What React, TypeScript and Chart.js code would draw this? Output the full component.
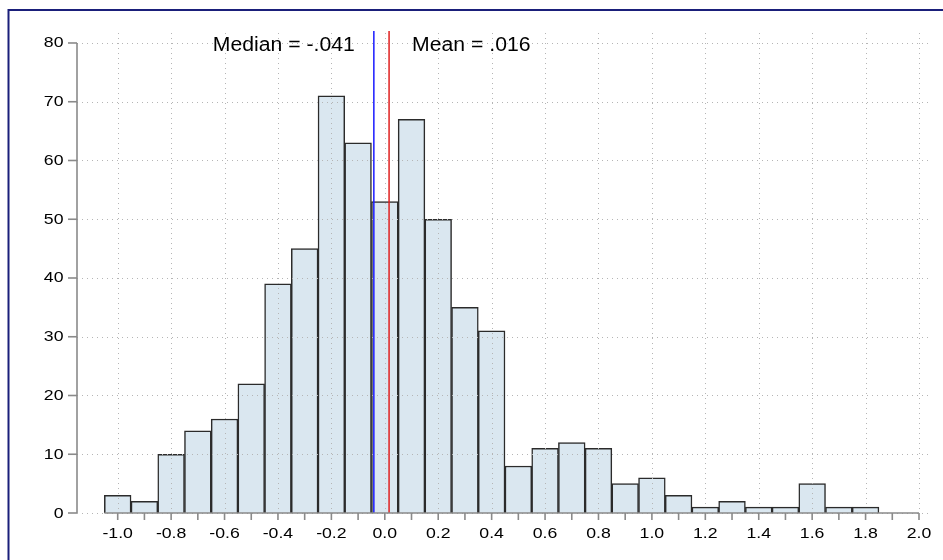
import React, { useEffect, useRef } from 'react';
import { Chart, registerables } from 'chart.js';

Chart.register(...registerables);

// ---- data ----
const binCenters = [-1.0, -0.9, -0.8, -0.7, -0.6, -0.5, -0.4, -0.3, -0.2, -0.1, 0.0, 0.1, 0.2, 0.3, 0.4, 0.5, 0.6, 0.7, 0.8, 0.9, 1.0, 1.1, 1.2, 1.3, 1.4, 1.5, 1.6, 1.7, 1.8];
const counts = [3, 2, 10, 14, 16, 22, 39, 45, 71, 63, 53, 67, 50, 35, 31, 8, 11, 12, 11, 5, 6, 3, 1, 2, 1, 1, 5, 1, 1];
const xTickValues = [-1.0, -0.8, -0.6, -0.4, -0.2, 0.0, 0.2, 0.4, 0.6, 0.8, 1.0, 1.2, 1.4, 1.6, 1.8, 2.0];
const xTickLabels = ['-1.0', '-0.8', '-0.6', '-0.4', '-0.2', '0.0', '0.2', '0.4', '0.6', '0.8', '1.0', '1.2', '1.4', '1.6', '1.8', '2.0'];
const xMinorTicks = [-1.0, -0.9, -0.8, -0.7, -0.6, -0.5, -0.4, -0.3, -0.2, -0.1, 0.0, 0.1, 0.2, 0.3, 0.4, 0.5, 0.6, 0.7, 0.8, 0.9, 1.0, 1.1, 1.2, 1.3, 1.4, 1.5, 1.6, 1.7, 1.8, 1.9, 2.0];
const yTickValues = [0, 10, 20, 30, 40, 50, 60, 70, 80];
const yTickLabels = ['0', '10', '20', '30', '40', '50', '60', '70', '80'];
const medianValue = -0.041;
const meanValue = 0.016;
const medianLabel = 'Median = -.041';
const meanLabel = 'Mean = .016';

const X_MIN = -1.1524;
const X_MAX = 2.0412;
const Y_MIN = 0;
const Y_MAX = 81.7;

const W = 943;
const H = 560;

function stretchedText(ctx: CanvasRenderingContext2D, text: string, x: number, y: number, sx: number, align: CanvasTextAlign, baseline: CanvasTextBaseline) {
  ctx.save();
  ctx.translate(x, y);
  ctx.scale(sx, 1);
  ctx.textAlign = align;
  ctx.textBaseline = baseline;
  ctx.fillText(text, 0, 0);
  ctx.restore();
}

const decorPlugin = {
  id: 'decor',
  beforeDraw(chart: any) {
    const ctx: CanvasRenderingContext2D = chart.ctx;
    ctx.save();
    ctx.fillStyle = '#ffffff';
    ctx.fillRect(0, 0, W, H);
    // outer frame (top and left visible)
    ctx.strokeStyle = '#1a1f7a';
    ctx.lineWidth = 2;
    ctx.beginPath();
    ctx.moveTo(8.5, H + 2);
    ctx.lineTo(8.5, 10);
    ctx.lineTo(W + 2, 10);
    ctx.stroke();
    ctx.restore();
  },
  afterDatasetsDraw(chart: any) {
    const ctx: CanvasRenderingContext2D = chart.ctx;
    const xs = chart.scales.x;
    const ys = chart.scales.y;
    const area = chart.chartArea;
    const y0 = ys.getPixelForValue(0);
    ctx.save();

    // dotted grid (drawn over bars)
    ctx.strokeStyle = '#b5b5b5';
    ctx.lineWidth = 1;
    ctx.setLineDash([1, 4]);
    for (const v of yTickValues) {
      const py = Math.round(ys.getPixelForValue(v)) + 0.5;
      ctx.beginPath();
      ctx.moveTo(area.left, py);
      ctx.lineTo(area.right, py);
      ctx.stroke();
    }
    for (const v of xTickValues) {
      const px = Math.round(xs.getPixelForValue(v)) + 0.5;
      ctx.beginPath();
      ctx.moveTo(px, area.top);
      ctx.lineTo(px, y0);
      ctx.stroke();
    }
    ctx.setLineDash([]);

    // median / mean lines
    const lineTop = area.top - 2;
    ctx.lineWidth = 1.5;
    ctx.strokeStyle = '#1a1aff';
    const pMed = xs.getPixelForValue(medianValue);
    ctx.beginPath();
    ctx.moveTo(pMed, lineTop);
    ctx.lineTo(pMed, y0);
    ctx.stroke();
    ctx.strokeStyle = '#e0201f';
    const pMean = xs.getPixelForValue(meanValue);
    ctx.beginPath();
    ctx.moveTo(pMean, lineTop);
    ctx.lineTo(pMean, y0);
    ctx.stroke();

    // axes
    ctx.strokeStyle = '#8a8a8a';
    ctx.lineWidth = 1.6;
    const yAxisX = area.left;
    ctx.beginPath();
    ctx.moveTo(yAxisX, ys.getPixelForValue(yTickValues[yTickValues.length - 1]));
    ctx.lineTo(yAxisX, y0);
    ctx.stroke();
    for (const v of yTickValues) {
      const py = ys.getPixelForValue(v);
      ctx.beginPath();
      ctx.moveTo(yAxisX - 9, py);
      ctx.lineTo(yAxisX, py);
      ctx.stroke();
    }
    const binW = binCenters[1] - binCenters[0];
    const xStart = xs.getPixelForValue(binCenters[0] - binW / 2);
    const xEnd = xs.getPixelForValue(xTickValues[xTickValues.length - 1]);
    ctx.beginPath();
    ctx.moveTo(xStart, y0);
    ctx.lineTo(xEnd, y0);
    ctx.stroke();
    for (const v of xMinorTicks) {
      const px = xs.getPixelForValue(v);
      ctx.beginPath();
      ctx.moveTo(px, y0);
      ctx.lineTo(px, y0 + 7);
      ctx.stroke();
    }

    // tick labels
    ctx.fillStyle = '#000000';
    ctx.font = '14.5px "Liberation Sans", Arial, sans-serif';
    yTickValues.forEach((v, i) => {
      stretchedText(ctx, yTickLabels[i], yAxisX - 13.5, ys.getPixelForValue(v) + 0.5, 1.22, 'right', 'middle');
    });
    xTickValues.forEach((v, i) => {
      stretchedText(ctx, xTickLabels[i], xs.getPixelForValue(v), y0 + 20.5, 1.22, 'center', 'middle');
    });

    // median / mean annotations
    ctx.font = '20px "Liberation Sans", Arial, sans-serif';
    const textY = ys.getPixelForValue(80) + 8;
    stretchedText(ctx, medianLabel, pMed - 19, textY, 1.06, 'right', 'alphabetic');
    stretchedText(ctx, meanLabel, pMean + 23, textY, 1.06, 'left', 'alphabetic');

    ctx.restore();
  },
};

export default function App() {
  const canvasRef = useRef<HTMLCanvasElement | null>(null);

  useEffect(() => {
    const canvas = canvasRef.current;
    if (!canvas) return;
    const chart = new Chart(canvas, {
      type: 'bar',
      data: {
        datasets: [
          {
            data: binCenters.map((x, i) => ({ x, y: counts[i] })),
            backgroundColor: '#dae7f0',
            borderColor: '#2b2b2b',
            borderWidth: 1.5,
            barPercentage: 1,
            categoryPercentage: 1,
          } as any,
        ],
      },
      options: {
        animation: false,
        responsive: false,
        devicePixelRatio: 1,
        layout: { padding: { left: 77, right: 13, top: 33, bottom: 47 } },
        plugins: {
          legend: { display: false },
          tooltip: { enabled: false },
          title: { display: false },
        },
        scales: {
          x: { type: 'linear', min: X_MIN, max: X_MAX, display: false, offset: false },
          y: { type: 'linear', min: Y_MIN, max: Y_MAX, display: false },
        },
      },
      plugins: [decorPlugin],
    } as any);
    return () => chart.destroy();
  }, []);

  return (
    <div style={{ position: 'fixed', left: 0, top: 0, width: W, height: H, overflow: 'hidden', background: '#fff' }}>
      <canvas ref={canvasRef} width={W} height={H} style={{ display: 'block', width: W, height: H }} />
    </div>
  );
}
